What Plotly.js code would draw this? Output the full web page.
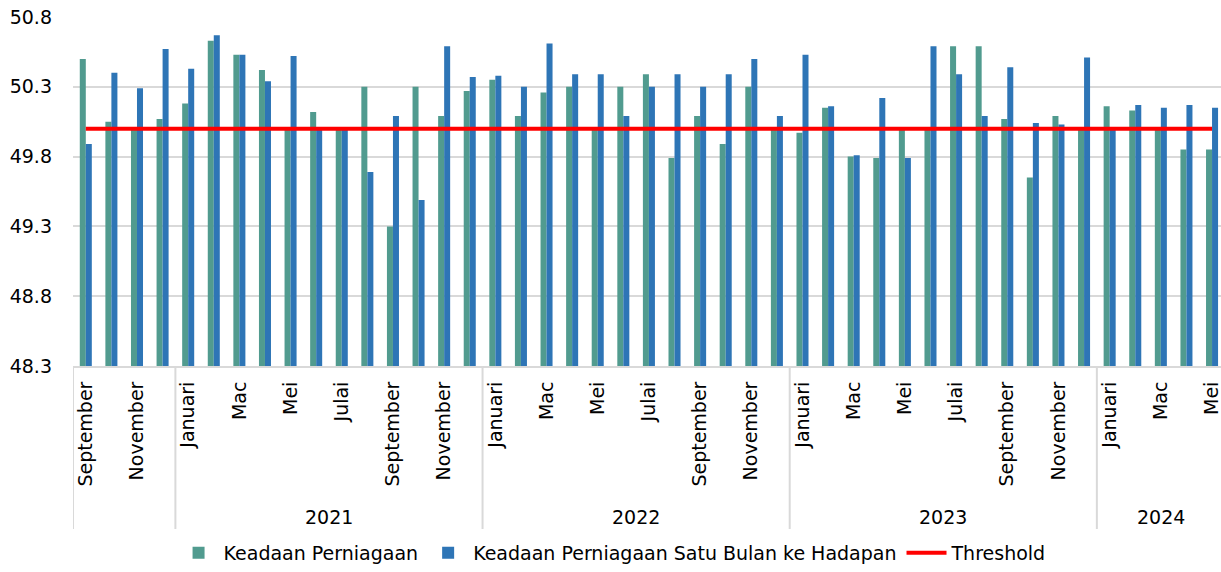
<!DOCTYPE html>
<html>
<head>
<meta charset="utf-8">
<script src="https://cdn.plot.ly/plotly-3.0.1.min.js"></script>
<style>html,body{margin:0;padding:0;background:#fff;}#chart{width:1221px;height:572px;}</style>
</head>
<body>
<div id="chart"></div>
<script>
// Period ids (year-month), one per bar group
const periods = [
  "2020-09","2020-10","2020-11","2020-12",
  "2021-01","2021-02","2021-03","2021-04","2021-05","2021-06","2021-07","2021-08","2021-09","2021-10","2021-11","2021-12",
  "2022-01","2022-02","2022-03","2022-04","2022-05","2022-06","2022-07","2022-08","2022-09","2022-10","2022-11","2022-12",
  "2023-01","2023-02","2023-03","2023-04","2023-05","2023-06","2023-07","2023-08","2023-09","2023-10","2023-11","2023-12",
  "2024-01","2024-02","2024-03","2024-04","2024-05"
];
const monthNames = ["Januari","Februari","Mac","April","Mei","Jun","Julai","Ogos","September","Oktober","November","Disember"];
const yearLabels = ["", "2021", "2022", "2023", "2024"];
const yearKeys = ["2020", "2021", "2022", "2023", "2024"];

const keadaan = [
  50.50, 50.05, 50.00, 50.07,
  50.18, 50.63, 50.53, 50.42, 50.00, 50.12, 50.00, 50.30, 49.30, 50.30, 50.09, 50.27,
  50.35, 50.09, 50.26, 50.30, 50.00, 50.30, 50.39, 49.79, 50.09, 49.89, 50.30, 50.00,
  49.97, 50.15, 49.80, 49.79, 50.00, 50.00, 50.59, 50.59, 50.07, 49.65, 50.09, 50.00,
  50.16, 50.13, 50.00, 49.85, 49.85
];
const satuBulan = [
  49.89, 50.40, 50.29, 50.57,
  50.43, 50.67, 50.53, 50.34, 50.52, 50.00, 50.00, 49.69, 50.09, 49.49, 50.59, 50.37,
  50.38, 50.30, 50.61, 50.39, 50.39, 50.09, 50.30, 50.39, 50.30, 50.39, 50.50, 50.09,
  50.53, 50.16, 49.81, 50.22, 49.79, 50.59, 50.39, 50.09, 50.44, 50.04, 50.03, 50.51,
  50.00, 50.17, 50.15, 50.17, 50.15
];
const thresholdValue = 50.0;
const threshold = periods.map(() => thresholdValue);

const FONT = "DejaVu Sans";
const FS = 19;
const GREEN = "#519B8F", BLUE = "#2E75B6", RED = "#FF0000", GRID = "#D9D9D9";

// tick labels every other month
const tickIdx = periods.map((p, i) => i).filter(i => i % 2 === 0);
const tickvals = tickIdx.map(i => periods[i]);
const ticktext = tickIdx.map(i => monthNames[parseInt(periods[i].slice(5), 10) - 1]);

// year groups
const groups = yearKeys.map(y => {
  const idx = periods.map((p, i) => p.startsWith(y) ? i : -1).filter(i => i >= 0);
  return {first: idx[0], last: idx[idx.length - 1]};
});

const shapes = groups.map(g => ({
  type: "line", xref: "x", yref: "paper",
  x0: g.first - 0.5, x1: g.first - 0.5, y0: 0, y1: -0.467,
  line: {color: GRID, width: 2}, layer: "above"
}));
const annotations = groups.map((g, k) => ({
  xref: "x", yref: "paper", x: (g.first + g.last) / 2, y: -0.433,
  text: yearLabels[k], showarrow: false, yanchor: "middle",
  font: {family: FONT, size: FS, color: "#000"}
})).filter(a => a.text !== "");

const traces = [
  {type: "bar", name: "Keadaan Perniagaan", x: periods, y: keadaan,
   marker: {color: GREEN}},
  {type: "bar", name: "Keadaan Perniagaan Satu Bulan ke Hadapan", x: periods, y: satuBulan,
   marker: {color: BLUE}},
  {type: "scatter", mode: "lines", name: "Threshold", x: periods, y: threshold,
   line: {color: RED, width: 4}}
];

const layout = {
  width: 1221, height: 572,
  margin: {l: 73, r: 0, t: 17, b: 204},
  paper_bgcolor: "#fff", plot_bgcolor: "#fff",
  font: {family: FONT, size: FS, color: "#000"},
  barmode: "group", bargap: 0.53, bargroupgap: 0,
  showlegend: true,
  legend: {orientation: "h", x: 0.47, xanchor: "center", y: -0.537, yanchor: "middle",
           font: {family: FONT, size: FS, color: "#000"}, itemwidth: 40, traceorder: "normal"},
  xaxis: {
    type: "category", range: [-0.5, 44.35],
    tickmode: "array", tickvals: tickvals, ticktext: ticktext, tickangle: -90,
    showgrid: false, zeroline: false, showline: true, linecolor: GRID, linewidth: 2,
    ticks: "", ticklabelstandoff: 6, tickfont: {family: FONT, size: FS, color: "#000"}, automargin: false
  },
  yaxis: {
    range: [48.3, 50.8], tick0: 48.3, dtick: 0.5, tickformat: ".1f",
    showgrid: true, gridcolor: GRID, gridwidth: 2, zeroline: false, showline: false,
    ticks: "", ticklabelstandoff: 20, tickfont: {family: FONT, size: FS, color: "#000"}, automargin: false
  },
  shapes: shapes,
  annotations: annotations
};

Plotly.newPlot("chart", traces, layout, {displayModeBar: false, staticPlot: true});
</script>
</body>
</html>
